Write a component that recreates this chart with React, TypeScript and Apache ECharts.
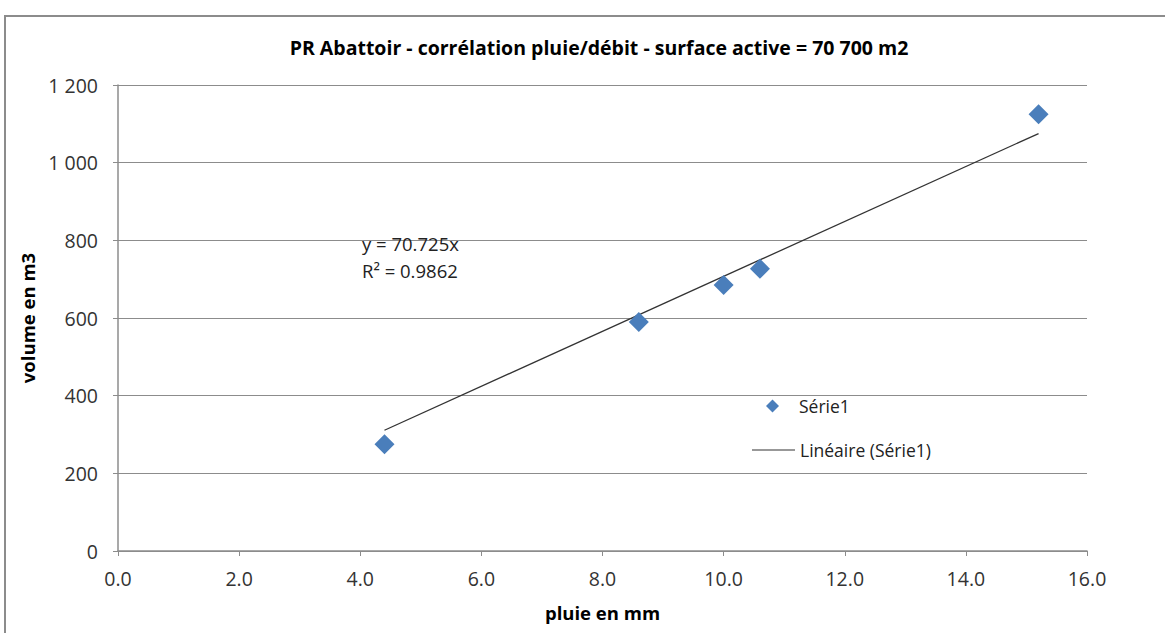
import React, { useEffect, useRef } from "react";
import * as echarts from "echarts";

const pluie = [4.4, 8.6, 10.0, 10.6, 15.2];
const volume = [275, 590, 685, 727, 1125];
const trendX = [4.4, 15.2];
const trendY = [311, 1075];
const xTicks = { min: 0, max: 16, interval: 2 };
const yTicks = { min: 0, max: 1200, interval: 200 };
const titleText = "PR Abattoir - corrélation pluie/débit - surface active = 70 700 m2";
const eqLines = ["y = 70.725x", "R² = 0.9862"];
const serieName = "Série1";
const trendName = "Linéaire (Série1)";

const FONT = "Open Sans";

export default function App() {
  const ref = useRef<HTMLDivElement>(null);
  useEffect(() => {
    if (!ref.current) return;
    const chart = echarts.init(ref.current, null, { renderer: "svg" });
    const fmtY = (v: number) => String(v).replace(/\B(?=(\d{3})+(?!\d))/g, " ");
    chart.setOption({
      animation: false,
      backgroundColor: "#fff",
      textStyle: { fontFamily: FONT },
      title: {
        text: titleText,
        left: 594,
        textAlign: "center",
        top: 32,
        textStyle: { fontFamily: FONT, fontSize: 19.5, fontWeight: "bold", color: "#000" },
      },
      grid: { left: 118, right: 78, top: 85, bottom: 82, containLabel: false },
      legend: [
        {
          left: 761,
          top: 392,
          padding: 5,
          itemWidth: 13,
          itemHeight: 13,
          data: [{ name: serieName, icon: "diamond" }],
          textStyle: { fontFamily: FONT, fontSize: 17.5, color: "#222", padding: [0, 0, 0, 15] },
        },
        {
          left: 747,
          top: 436,
          padding: 5,
          itemWidth: 43,
          itemHeight: 1,
          data: [{ name: trendName, icon: "rect" }],
          textStyle: { fontFamily: FONT, fontSize: 17.5, color: "#222" },
        },
      ],
      xAxis: {
        type: "value",
        ...xTicks,
        name: "pluie en mm",
        nameLocation: "middle",
        nameGap: 52,
        nameTextStyle: { fontFamily: FONT, fontSize: 18.5, fontWeight: "bold", color: "#000" },
        axisLine: { show: true, lineStyle: { color: "#8c8c8c", width: 1.5 } },
        axisTick: { show: true, length: 5, lineStyle: { color: "#8c8c8c" } },
        axisLabel: {
          formatter: (v: number) => v.toFixed(1),
          fontFamily: FONT,
          fontSize: 19.5,
          color: "#333",
          margin: 17,
        },
        splitLine: { show: false },
      },
      yAxis: {
        type: "value",
        ...yTicks,
        name: "volume en m3",
        nameLocation: "middle",
        nameGap: 81,
        nameTextStyle: { fontFamily: FONT, fontSize: 18.5, fontWeight: "bold", color: "#000" },
        axisLine: { show: true, lineStyle: { color: "#8c8c8c", width: 1.5 } },
        axisTick: { show: true, length: 5, lineStyle: { color: "#8c8c8c" } },
        axisLabel: {
          formatter: fmtY,
          fontFamily: FONT,
          fontSize: 19.5,
          color: "#333",
          margin: 20,
        },
        splitLine: { show: true, lineStyle: { color: "#8c8c8c", width: 1 } },
      },
      series: [
        {
          name: serieName,
          type: "scatter",
          symbol: "diamond",
          symbolSize: 20,
          itemStyle: { color: "#4A7EBB", opacity: 1 },
          data: pluie.map((x, i) => [x, volume[i]]),
          z: 3,
        },
        {
          name: trendName,
          type: "line",
          symbol: "none",
          showSymbol: false,
          lineStyle: { color: "#333", width: 1.3 },
          itemStyle: { color: "#333" },
          data: trendX.map((x, i) => [x, trendY[i]]),
          z: 2,
        },
      ],
      graphic: [
        {
          type: "rect",
          shape: { x: 5, y: 16, width: 1400, height: 900 },
          style: { fill: "none", stroke: "#8c8c8c", lineWidth: 2 },
          silent: true,
          z: 10,
        },
        {
          type: "text",
          left: 362,
          top: 230,
          style: {
            text: eqLines.join("\n"),
            fontFamily: FONT,
            fontSize: 18.5,
            lineHeight: 27,
            fill: "#222",
          },
          z: 10,
        },
      ],
    });
    return () => chart.dispose();
  }, []);
  return (
    <div
      ref={ref}
      style={{ position: "absolute", left: 0, top: 0, width: 1165, height: 633 }}
    />
  );
}
